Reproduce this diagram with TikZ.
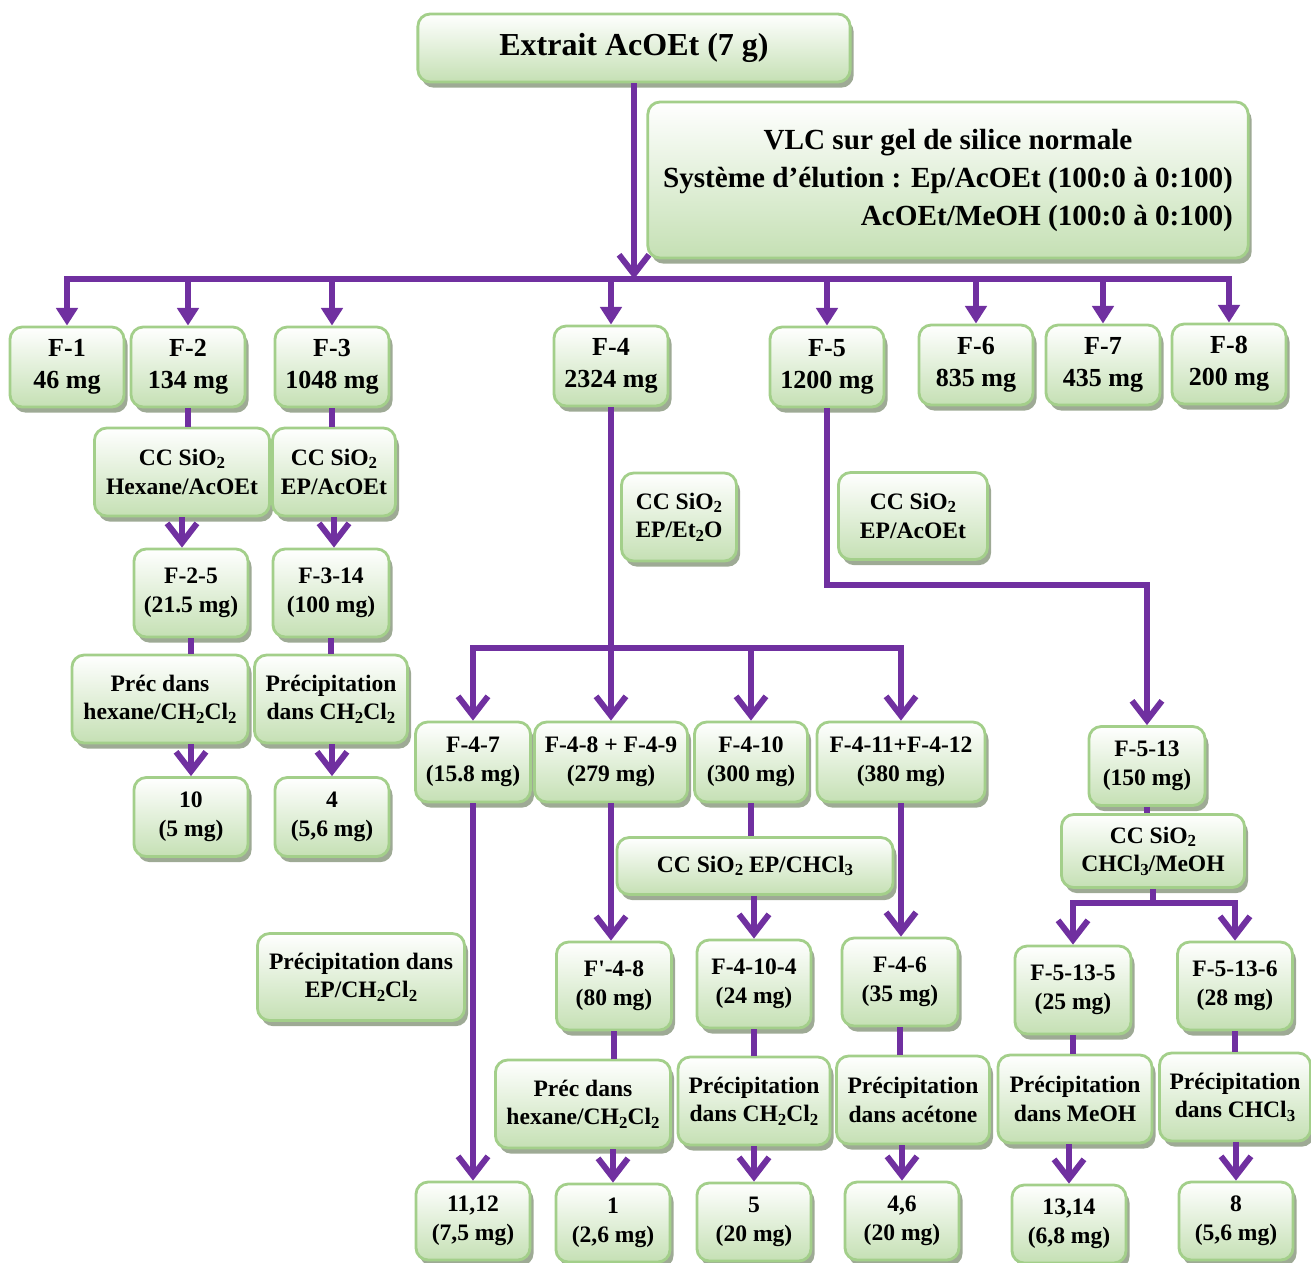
\documentclass[tikz,border=0pt]{standalone}
\usepackage{fontspec}
\setmainfont{Liberation Serif}
\usetikzlibrary{arrows.meta,shadows}
\definecolor{flowpurple}{HTML}{7030A0}
\definecolor{boxline}{HTML}{A3CF8A}
\definecolor{boxfill}{HTML}{C5E0B4}
\definecolor{boxshade}{HTML}{9EAA95}
\newcommand{\ix}[1]{\raisebox{-0.3ex}{\fontsize{4.8}{5}\selectfont #1}}
\begin{document}
\begin{tikzpicture}[x=0.01cm,y=-0.01cm,
    box/.style={draw=boxline,line width=0.8pt,rounded corners=3.5pt,
      top color=white,bottom color=boxfill,
      drop shadow={shadow xshift=1pt,shadow yshift=-1.6pt,fill=boxshade,opacity=1},
      align=center,inner sep=2pt,font=\bfseries\fontsize{6.7}{8.2}\selectfont,
      minimum width=1.14cm,minimum height=0.88cm},
    frac/.style={box,font=\bfseries\fontsize{7.4}{9}\selectfont,minimum height=0.8cm},
    link/.style={draw=flowpurple,line width=1.7pt},
    flow/.style={link,-{Straight Barb[length=5.5pt,width=8.5pt]}},
    drop/.style={link,-{Triangle[length=5pt,width=6pt]}}]
  \useasboundingbox (0,0) rectangle (1311,1263);

  % extrait et VLC
  \node[box,font=\bfseries\fontsize{9.1}{11}\selectfont,minimum width=4.32cm,minimum height=0.68cm] (extrait) at (634,48) {Extrait AcOEt (7 g)};
  \node[box,font=\bfseries\fontsize{8.3}{10.8}\selectfont,minimum width=6cm,minimum height=1.56cm] (vlc) at (948,180)
    {\begin{tabular}{@{}r@{}}\multicolumn{1}{@{}c@{}}{VLC sur gel de silice normale}\\
      Système d’élution : Ep/AcOEt (100:0 à 0:100)\\
      AcOEt/MeOH (100:0 à 0:100)\end{tabular}};

  % fractions F-1 a F-8
  \node[frac] (f1) at (67,367) {F-1\\46 mg};
  \node[frac] (f2) at (188,367) {F-2\\134 mg};
  \node[frac] (f3) at (332,367) {F-3\\1048 mg};
  \node[frac] (f4) at (611,366) {F-4\\2324 mg};
  \node[frac] (f5) at (827,367) {F-5\\1200 mg};
  \node[frac] (f6) at (976,365) {F-6\\835 mg};
  \node[frac] (f7) at (1103,365) {F-7\\435 mg};
  \node[frac] (f8) at (1229,364) {F-8\\200 mg};

  % F-2 et F-3
  \node[box,minimum width=1.75cm] (cc2) at (182,472) {CC SiO\ix{2}\\Hexane/AcOEt};
  \node[box,minimum width=1.23cm] (cc3) at (334,472) {CC SiO\ix{2}\\EP/AcOEt};
  \node[box] (f25) at (191,593) {F-2-5\\(21.5 mg)};
  \node[box,minimum width=1.16cm] (f314) at (331,593) {F-3-14\\(100 mg)};
  \node[box,minimum width=1.76cm] (pr25) at (160,699) {Préc dans\\hexane/CH\ix{2}Cl\ix{2}};
  \node[box,minimum width=1.53cm] (pr314) at (331,699) {Précipitation\\dans CH\ix{2}Cl\ix{2}};
  \node[box,minimum height=0.79cm] (r10) at (191,817) {10\\(5 mg)};
  \node[box,minimum height=0.79cm] (r4) at (332,817) {4\\(5,6 mg)};

  % F-4
  \node[box,minimum width=1.15cm] (cc4) at (679,517) {CC SiO\ix{2}\\EP/Et\ix{2}O};
  \node[box,minimum height=0.8cm,minimum width=1.15cm] (f47) at (473,762) {F-4-7\\(15.8 mg)};
  \node[box,minimum height=0.8cm,minimum width=1.53cm] (f489) at (611,762) {F-4-8 + F-4-9\\(279 mg)};
  \node[box,minimum height=0.8cm,minimum width=1.13cm] (f410) at (751,762) {F-4-10\\(300 mg)};
  \node[box,minimum height=0.8cm,minimum width=1.68cm] (f412) at (901,762) {F-4-11+F-4-12\\(380 mg)};
  \node[box,minimum width=2.76cm,minimum height=0.57cm] (cc410) at (755,866) {CC SiO\ix{2} EP/CHCl\ix{3}};
  \node[box,minimum width=2.07cm,minimum height=0.87cm] (prep) at (361,977) {Précipitation dans\\EP/CH\ix{2}Cl\ix{2}};
  \node[box,minimum width=1.15cm] (fp48) at (614,986) {F\textquotesingle-4-8\\(80 mg)};
  \node[box] (f4104) at (754,984) {F-4-10-4\\(24 mg)};
  \node[box,minimum width=1.16cm] (f46) at (900,982) {F-4-6\\(35 mg)};
  \node[box,minimum width=1.75cm] (pr48) at (583,1104) {Préc dans\\hexane/CH\ix{2}Cl\ix{2}};
  \node[box,minimum width=1.52cm] (pr4104) at (754,1101) {Précipitation\\dans CH\ix{2}Cl\ix{2}};
  \node[box,minimum width=1.53cm] (pr46) at (913,1100) {Précipitation\\dans acétone};
  \node[box,minimum height=0.78cm] (r1112) at (473,1221) {11,12\\(7,5 mg)};
  \node[box,minimum height=0.78cm] (r1) at (613,1223) {1\\(2,6 mg)};
  \node[box,minimum height=0.78cm] (r5) at (754,1222) {5\\(20 mg)};
  \node[box,minimum height=0.78cm] (r46) at (902,1221) {4,6\\(20 mg)};

  % F-5
  \node[box,minimum width=1.49cm,minimum height=0.87cm] (cc5) at (913,516) {CC SiO\ix{2}\\EP/AcOEt};
  \node[box,minimum width=1.16cm,minimum height=0.79cm] (f513) at (1147,766) {F-5-13\\(150 mg)};
  \node[box,minimum width=1.83cm,minimum height=0.73cm] (cc513) at (1153,851) {CC SiO\ix{2}\\CHCl\ix{3}/MeOH};
  \node[box,minimum width=1.16cm] (f5135) at (1073,990) {F-5-13-5\\(25 mg)};
  \node[box,minimum width=1.15cm] (f5136) at (1235,986) {F-5-13-6\\(28 mg)};
  \node[box,minimum width=1.54cm] (pr5135) at (1075,1099) {Précipitation\\dans MeOH};
  \node[box,minimum width=1.51cm] (pr5136) at (1235,1097) {Précipitation\\dans CHCl\ix{3}};
  \node[box,minimum height=0.78cm] (r1314) at (1069,1224) {13,14\\(6,8 mg)};
  \node[box,minimum height=0.78cm] (r8) at (1236,1221) {8\\(5,6 mg)};

  % liaisons
  \coordinate (hub) at (634,279);
  \draw[flow] (extrait.south) -- (extrait.south |- hub);
  \draw[link,line cap=rect] (hub -| f1) -- (hub -| f8);
  \foreach \f in {f1,f2,f3,f4,f5,f6,f7,f8}
    \draw[drop] (hub -| \f) -- (\f.north);

  \draw[link] (f2.south) -- (f2.south |- cc2.north);
  \draw[flow] (cc2.south) -- (cc2.south |- f25.north);
  \draw[link] (f25.south) -- (f25.south |- pr25.north);
  \draw[flow] (r10.north |- pr25.south) -- (r10.north);
  \draw[link] (f3.south) -- (f3.south |- cc3.north);
  \draw[flow] (cc3.south) -- (cc3.south |- f314.north);
  \draw[link] (f314.south) -- (f314.south |- pr314.north);
  \draw[flow] (r4.north |- pr314.south) -- (r4.north);

  \coordinate (hub4) at (611,648);
  \draw[flow] (f4.south) -- (f4.south |- f489.north);
  \draw[link,line cap=rect] (hub4 -| f47) -- (hub4 -| f412);
  \foreach \f in {f47,f410,f412}
    \draw[flow] (hub4 -| \f) -- (\f.north);
  \draw[flow] (f47.south) -- (f47.south |- r1112.north);
  \draw[flow] (f489.south) -- (f489.south |- fp48.north);
  \draw[link] (f410.south) -- (f410.south |- cc410.north);
  \draw[flow] (f4104.north |- cc410.south) -- (f4104.north);
  \draw[flow] (f412.south) -- (f412.south |- f46.north);
  \draw[link] (fp48.south) -- (fp48.south |- pr48.north);
  \draw[flow] (r1.north |- pr48.south) -- (r1.north);
  \draw[link] (f4104.south) -- (f4104.south |- pr4104.north);
  \draw[flow] (r5.north |- pr4104.south) -- (r5.north);
  \draw[link] (f46.south) -- (f46.south |- pr46.north);
  \draw[flow] (r46.north |- pr46.south) -- (r46.north);

  \coordinate (bend5) at (827,585);
  \draw[flow] (f5.south) -- (bend5) -| (f513.north);
  \coordinate (hub5) at (1153,903);
  \draw[link] (f513.south) -- (f513.south |- cc513.north);
  \draw[link] (cc513.south) -- (hub5);
  \draw[link,line cap=rect] (hub5 -| f5135) -- (hub5 -| f5136);
  \foreach \f in {f5135,f5136}
    \draw[flow] (hub5 -| \f) -- (\f.north);
  \draw[link] (f5135.south) -- (f5135.south |- pr5135.north);
  \draw[flow] (r1314.north |- pr5135.south) -- (r1314.north);
  \draw[link] (f5136.south) -- (f5136.south |- pr5136.north);
  \draw[flow] (r8.north |- pr5136.south) -- (r8.north);
\end{tikzpicture}
\end{document}
